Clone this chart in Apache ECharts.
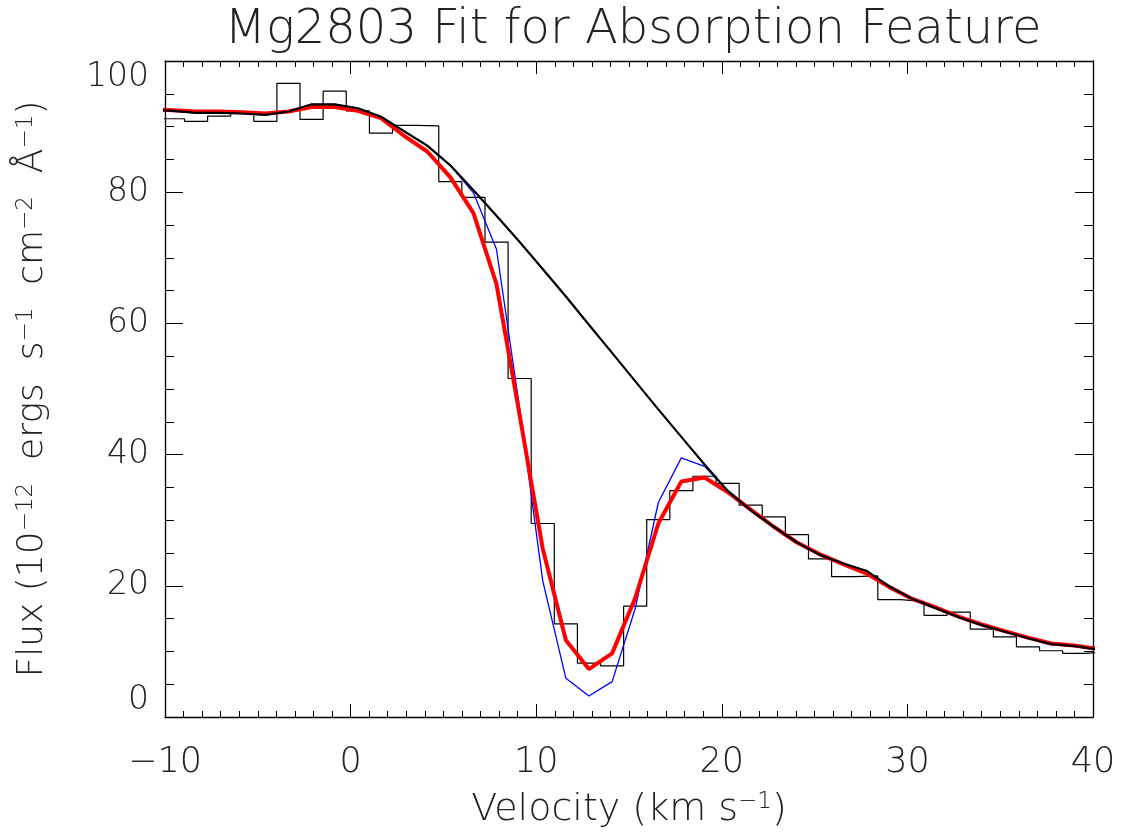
<!DOCTYPE html>
<html>
<head>
<meta charset="utf-8">
<script src="https://cdn.jsdelivr.net/npm/echarts@6/dist/echarts.min.js"></script>
<style>html,body{margin:0;padding:0;background:#fff;}#c{width:1124px;height:834px;}</style>
</head>
<body>
<div id="c"></div>
<script>
// Bin-centre velocities (km/s)
const velocity = [-10.82, -9.57, -8.33, -7.08, -5.84, -4.59, -3.35, -2.10, -0.86, 0.39, 1.64,
  2.88, 4.13, 5.37, 6.62, 7.86, 9.11, 10.35, 11.60, 12.84, 14.09, 15.33, 16.58, 17.82,
  19.07, 20.31, 21.56, 22.80, 24.05, 25.29, 26.54, 27.78, 29.03, 30.27, 31.52, 32.76,
  34.01, 35.25, 36.50, 37.74, 38.99, 40.23];
// Observed flux (histogram)
const observed = [91.2, 91.2, 90.8, 91.6, 92.2, 90.8, 96.6, 91.1, 95.4, 92.4, 89.0,
  90.2, 90.1, 81.6, 79.2, 72.4, 51.6, 29.5, 14.2, 8.2, 7.8, 16.9, 30.1, 34.5,
  36.7, 35.6, 32.3, 30.5, 27.8, 24.1, 21.4, 21.5, 17.9, 17.6, 15.5, 16.0,
  13.4, 12.2, 10.7, 10.1, 9.7, 10.0];
// Continuum (unabsorbed) model - black
const continuum = [92.6, 92.4, 92.1, 92.1, 92.0, 91.8, 92.3, 93.4, 93.4, 92.8, 91.5,
  89.3, 87.1, 84.1, 80.3, 76.4, 72.4, 68.3, 64.1, 59.8, 55.5, 51.2, 46.9, 42.7,
  38.5, 34.5, 31.5, 29.0, 26.6, 24.7, 23.4, 22.3, 19.9, 18.0, 16.6, 15.2,
  14.0, 13.0, 12.0, 11.1, 10.8, 10.3];
// Intrinsic absorption model - blue
const intrinsic = [92.6, 92.4, 92.1, 92.1, 92.0, 91.8, 92.3, 93.4, 93.4, 92.8, 91.5,
  89.3, 87.1, 84.1, 79.9, 71.3, 47.0, 20.8, 5.9, 3.2, 5.4, 16.5, 32.7, 39.5,
  38.2, 34.5, 31.5, 29.0, 26.6, 24.7, 23.4, 22.3, 19.9, 18.0, 16.6, 15.2,
  14.0, 13.0, 12.0, 11.1, 10.8, 10.3];
// Convolved fit - red
const fit = [92.7, 92.5, 92.3, 92.3, 92.2, 92.0, 92.3, 93.0, 93.0, 92.4, 91.3,
  88.6, 86.2, 82.3, 76.8, 66.0, 46.0, 25.7, 11.7, 7.3, 9.7, 18.1, 29.5, 35.9,
  36.5, 34.3, 31.6, 29.0, 26.6, 24.8, 23.3, 21.9, 19.8, 18.0, 16.7, 15.3,
  14.1, 13.1, 12.1, 11.2, 10.9, 10.4];

const xTicks = [-10, 0, 10, 20, 30, 40];
const yTicks = [0, 20, 40, 60, 80, 100];

function pairs(xs, ys) { return xs.map((x, i) => [x, ys[i]]); }
function histPath(xs, ys) {
  const out = [];
  for (let i = 0; i < xs.length; i++) {
    const lo = i > 0 ? (xs[i - 1] + xs[i]) / 2 : xs[i] - (xs[i + 1] - xs[i]) / 2;
    const hi = i < xs.length - 1 ? (xs[i] + xs[i + 1]) / 2 : xs[i] + (xs[i] - xs[i - 1]) / 2;
    out.push([lo, ys[i]], [hi, ys[i]]);
  }
  return out;
}

const FONT = '"DejaVu Sans", sans-serif';
const FW = 200;
const TXT = '#222';
const chart = echarts.init(document.getElementById('c'), null, {renderer: 'canvas'});

const axisLine = {show: true, onZero: false, lineStyle: {color: '#000', width: 1.3}};
const supStyle = {fontSize: 23, fontFamily: FONT, fontWeight: FW, color: TXT, verticalAlign: 'top', lineHeight: 22};
function xAxisCfg(pos, showLabels) {
  return {
    type: 'value', position: pos, min: xTicks[0], max: xTicks[xTicks.length - 1],
    interval: 10, axisLine: axisLine,
    axisTick: {show: true, inside: true, length: 13, lineStyle: {color: '#000', width: 1}},
    minorTick: {show: true, splitNumber: 10, length: 6, lineStyle: {color: '#000', width: 1}},
    splitLine: {show: false}, minorSplitLine: {show: false},
    axisLabel: {show: showLabels, margin: 28, fontSize: 35, fontFamily: FONT, fontWeight: FW, color: TXT,
      formatter: v => (v < 0 ? '\u2212' + Math.abs(v) : String(v))},
    name: showLabels ? 'Velocity (km s{s|\u22121})' : '',
    nameLocation: 'middle', nameGap: 74,
    nameTextStyle: {fontSize: 38, fontFamily: FONT, fontWeight: FW, color: TXT, rich: {s: supStyle}}
  };
}
function yAxisCfg(pos, showLabels) {
  return {
    type: 'value', position: pos, min: yTicks[0], max: yTicks[yTicks.length - 1],
    interval: 20, axisLine: axisLine,
    axisTick: {show: true, inside: true, length: 18, lineStyle: {color: '#000', width: 1}},
    minorTick: {show: true, splitNumber: 4, length: 9, lineStyle: {color: '#000', width: 1}},
    splitLine: {show: false}, minorSplitLine: {show: false},
    axisLabel: {show: showLabels, margin: 16, fontSize: 33, fontFamily: FONT, fontWeight: FW, color: TXT,
      verticalAlignMinLabel: 'bottom', verticalAlignMaxLabel: 'top'},
    name: showLabels ? 'Flux (10{s|\u221212}  ergs  s{s|\u22121}  cm{s|\u22122}  \u00c5{s|\u22121})' : '',
    nameLocation: 'middle', nameGap: 114, nameRotate: 90,
    nameTextStyle: {fontSize: 36, fontFamily: FONT, fontWeight: FW, color: TXT, rich: {s: supStyle}}
  };
}

chart.setOption({
  backgroundColor: '#fff',
  animation: false,
  title: {
    text: 'Mg2803 Fit for Absorption Feature', left: 628, top: 2, textAlign: 'center',
    textStyle: {fontSize: 48, fontFamily: FONT, fontWeight: FW, color: TXT}
  },
  grid: {left: 165, right: 31, top: 61, bottom: 115, containLabel: false},
  xAxis: [xAxisCfg('bottom', true), xAxisCfg('top', false)],
  yAxis: [yAxisCfg('left', true), yAxisCfg('right', false)],
  series: [
    {type: 'line', name: 'observed', data: histPath(velocity, observed), showSymbol: false,
      lineStyle: {color: '#000', width: 1.2}, clip: true, z: 2},
    {type: 'line', name: 'intrinsic', data: pairs(velocity, intrinsic), showSymbol: false,
      lineStyle: {color: '#0000ff', width: 1.3}, clip: true, z: 3},
    {type: 'line', name: 'fit', data: pairs(velocity, fit), showSymbol: false,
      lineStyle: {color: '#ff0000', width: 4}, clip: true, z: 4},
    {type: 'line', name: 'continuum', data: pairs(velocity, continuum), showSymbol: false,
      lineStyle: {color: '#000', width: 2.2}, clip: true, z: 5}
  ]
});
</script>
</body>
</html>
